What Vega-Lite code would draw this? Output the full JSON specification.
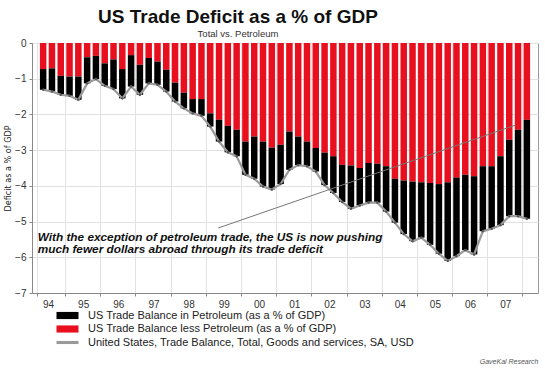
{
  "$schema": "https://vega.github.io/schema/vega-lite/v6.json",
  "width": 506,
  "height": 250,
  "autosize": {"type": "none"},
  "padding": {"left": 32, "top": 43, "right": 7, "bottom": 77},
  "background": "white",
  "config": {
    "font": "Liberation Sans",
    "view": {"stroke": "#999999", "strokeWidth": 1}
  },
  "title": {
    "text": "US Trade Deficit as a % of GDP",
    "subtitle": "Total vs. Petroleum",
    "anchor": "middle",
    "dx": -47,
    "offset": 0,
    "fontSize": 19,
    "fontWeight": "bold",
    "color": "#111111",
    "subtitleFontSize": 9.5,
    "subtitleColor": "#333333",
    "subtitlePadding": 2
  },
  "datasets": {
    "q": [
      {"t": 1994.375, "nonpet": -0.73, "pet": -0.58, "total": -1.31},
      {"t": 1994.625, "nonpet": -0.71, "pet": -0.65, "total": -1.36},
      {"t": 1994.875, "nonpet": -0.92, "pet": -0.53, "total": -1.45},
      {"t": 1995.125, "nonpet": -0.94, "pet": -0.54, "total": -1.48},
      {"t": 1995.375, "nonpet": -0.94, "pet": -0.65, "total": -1.59},
      {"t": 1995.625, "nonpet": -0.40, "pet": -0.73, "total": -1.13},
      {"t": 1995.875, "nonpet": -0.36, "pet": -0.65, "total": -1.01},
      {"t": 1996.125, "nonpet": -0.57, "pet": -0.63, "total": -1.20},
      {"t": 1996.375, "nonpet": -0.46, "pet": -0.83, "total": -1.29},
      {"t": 1996.625, "nonpet": -0.73, "pet": -0.82, "total": -1.55},
      {"t": 1996.875, "nonpet": -0.34, "pet": -0.88, "total": -1.22},
      {"t": 1997.125, "nonpet": -0.61, "pet": -0.84, "total": -1.45},
      {"t": 1997.375, "nonpet": -0.42, "pet": -0.71, "total": -1.13},
      {"t": 1997.625, "nonpet": -0.52, "pet": -0.65, "total": -1.17},
      {"t": 1997.875, "nonpet": -0.75, "pet": -0.61, "total": -1.36},
      {"t": 1998.125, "nonpet": -1.11, "pet": -0.53, "total": -1.64},
      {"t": 1998.375, "nonpet": -1.39, "pet": -0.44, "total": -1.83},
      {"t": 1998.625, "nonpet": -1.57, "pet": -0.40, "total": -1.97},
      {"t": 1998.875, "nonpet": -1.57, "pet": -0.47, "total": -2.04},
      {"t": 1999.125, "nonpet": -1.97, "pet": -0.37, "total": -2.34},
      {"t": 1999.375, "nonpet": -2.15, "pet": -0.61, "total": -2.76},
      {"t": 1999.625, "nonpet": -2.32, "pet": -0.74, "total": -3.06},
      {"t": 1999.875, "nonpet": -2.43, "pet": -0.74, "total": -3.17},
      {"t": 2000.125, "nonpet": -2.76, "pet": -0.93, "total": -3.69},
      {"t": 2000.375, "nonpet": -2.62, "pet": -1.18, "total": -3.80},
      {"t": 2000.625, "nonpet": -2.76, "pet": -1.26, "total": -4.02},
      {"t": 2000.875, "nonpet": -2.93, "pet": -1.17, "total": -4.10},
      {"t": 2001.125, "nonpet": -2.85, "pet": -1.10, "total": -3.95},
      {"t": 2001.375, "nonpet": -2.48, "pet": -1.07, "total": -3.55},
      {"t": 2001.625, "nonpet": -2.62, "pet": -0.80, "total": -3.42},
      {"t": 2001.875, "nonpet": -2.76, "pet": -0.69, "total": -3.45},
      {"t": 2002.125, "nonpet": -2.94, "pet": -0.66, "total": -3.60},
      {"t": 2002.375, "nonpet": -3.07, "pet": -0.91, "total": -3.98},
      {"t": 2002.625, "nonpet": -3.17, "pet": -1.03, "total": -4.20},
      {"t": 2002.875, "nonpet": -3.41, "pet": -1.04, "total": -4.45},
      {"t": 2003.125, "nonpet": -3.43, "pet": -1.21, "total": -4.64},
      {"t": 2003.375, "nonpet": -3.50, "pet": -1.05, "total": -4.55},
      {"t": 2003.625, "nonpet": -3.36, "pet": -1.11, "total": -4.47},
      {"t": 2003.875, "nonpet": -3.38, "pet": -1.09, "total": -4.47},
      {"t": 2004.125, "nonpet": -3.45, "pet": -1.27, "total": -4.72},
      {"t": 2004.375, "nonpet": -3.80, "pet": -1.23, "total": -5.03},
      {"t": 2004.625, "nonpet": -3.85, "pet": -1.50, "total": -5.35},
      {"t": 2004.875, "nonpet": -3.88, "pet": -1.67, "total": -5.55},
      {"t": 2005.125, "nonpet": -3.90, "pet": -1.55, "total": -5.45},
      {"t": 2005.375, "nonpet": -3.92, "pet": -1.73, "total": -5.65},
      {"t": 2005.625, "nonpet": -3.95, "pet": -1.95, "total": -5.90},
      {"t": 2005.875, "nonpet": -3.90, "pet": -2.20, "total": -6.10},
      {"t": 2006.125, "nonpet": -3.77, "pet": -2.20, "total": -5.97},
      {"t": 2006.375, "nonpet": -3.69, "pet": -2.11, "total": -5.80},
      {"t": 2006.625, "nonpet": -3.73, "pet": -2.19, "total": -5.92},
      {"t": 2006.875, "nonpet": -3.45, "pet": -1.82, "total": -5.27},
      {"t": 2007.125, "nonpet": -3.45, "pet": -1.75, "total": -5.20},
      {"t": 2007.375, "nonpet": -3.17, "pet": -1.93, "total": -5.10},
      {"t": 2007.625, "nonpet": -2.71, "pet": -2.14, "total": -4.85},
      {"t": 2007.875, "nonpet": -2.43, "pet": -2.42, "total": -4.85},
      {"t": 2008.125, "nonpet": -2.15, "pet": -2.77, "total": -4.92}
    ],
    "note": [
      {"t": 1994.22, "value": -5.43,
       "text": ["With the exception of petroleum trade, the US is now pushing", "much fewer dollars abroad through its trade deficit"]}
    ],
    "pointer": [
      {"t": 1999.35, "value": -5.18, "t2": 2007.8, "value2": -2.3}
    ]
  },
  "encoding": {
    "x": {
      "field": "t", "type": "quantitative",
      "scale": {"domain": [1994.2, 2008.3], "nice": false, "zero": false},
      "axis": {
        "values": [1994.2, 1995, 1996, 1997, 1998, 1999, 2000, 2001, 2002, 2003, 2004, 2005, 2006, 2007, 2008],
        "labelExpr": "datum.value >= 2008 ? '' : substring(toString(floor(datum.value)), 2, 4)",
        "labelOffset": {"condition": {"test": "datum.value < 1995", "value": 11}, "value": 18},
        "labelOverlap": false,
        "labelBound": false,
        "labelFontSize": 10, "labelColor": "#333333", "labelPadding": 3,
        "tickSize": 3, "tickColor": "#888888",
        "domainColor": "#888888",
        "grid": true, "gridColor": "#e2e2e2",
        "title": "GaveKal Research",
        "titleFontSize": 7, "titleFontStyle": "italic", "titleFontWeight": "normal",
        "titleColor": "#555555", "titleAnchor": "end", "titleY": 64
      }
    },
    "y": {
      "field": "value", "type": "quantitative",
      "scale": {"domain": [-7, 0], "nice": false},
      "axis": {
        "values": [0, -1, -2, -3, -4, -5, -6, -7],
        "format": "d",
        "labelOverlap": false,
        "labelFontSize": 10, "labelColor": "#333333", "labelPadding": 3,
        "tickSize": 3, "tickColor": "#888888", "domainColor": "#888888",
        "grid": true, "gridColor": "#e2e2e2",
        "title": "Deficit as a % of GDP",
        "titleFont": "DejaVu Sans Condensed",
        "titleFontSize": 9, "titleFontWeight": "normal", "titleColor": "#222222",
        "titlePadding": 2
      }
    },
    "color": {
      "field": "series", "type": "nominal",
      "scale": {"domain": ["pet", "nonpet", "total"], "range": ["#000000", "#e8101e", "#9a9a9a"]},
      "legend": {
        "orient": "none", "legendX": 30, "legendY": 267,
        "title": null,
        "symbolType": "M-2,-0.65H2V0.65H-2Z",
        "symbolSize": 121,
        "symbolStrokeWidth": 0,
        "labelFontSize": 11, "labelColor": "#222222", "labelOffset": 15,
        "labelLimit": 0,
        "rowPadding": 1.5,
        "labelExpr": "datum.label == 'pet' ? 'US Trade Balance in Petroleum (as a % of GDP)' : datum.label == 'nonpet' ? 'US Trade Balance less Petroleum (as a % of GDP)' : 'United States, Trade Balance, Total, Goods and services, SA, USD'",
        "encode": {
          "symbols": {
            "update": {
              "shape": {"signal": "datum.value == 'total' ? 'M-2,-0.28H2V0.28H-2Z' : 'M-2,-0.65H2V0.65H-2Z'"}
            }
          }
        }
      }
    }
  },
  "layer": [
    {
      "data": {"name": "q"},
      "transform": [{"fold": ["nonpet", "pet"], "as": ["series", "value"]}],
      "mark": {"type": "bar", "width": 6.5},
      "encoding": {
        "order": {"field": "series", "sort": "ascending"}
      }
    },
    {
      "data": {"name": "q"},
      "transform": [{"fold": ["total"], "as": ["series", "value"]}],
      "mark": {"type": "line", "strokeWidth": 2.2}
    },
    {
      "data": {"name": "q"},
      "transform": [{"fold": ["total"], "as": ["series", "value"]}],
      "mark": {"type": "circle", "size": 6, "opacity": 1},
      "encoding": {"color": {"value": "#555555"}}
    },
    {
      "data": {"name": "pointer"},
      "mark": {"type": "rule", "strokeWidth": 1},
      "encoding": {
        "x2": {"field": "t2"},
        "y2": {"field": "value2"},
        "color": {"value": "#777777"}
      }
    },
    {
      "data": {"name": "note"},
      "mark": {"type": "text", "align": "left", "baseline": "middle", "fontSize": 11.8, "fontWeight": "bold", "fontStyle": "italic", "lineHeight": 12.5},
      "encoding": {
        "text": {"field": "text"},
        "color": {"value": "#111111"}
      }
    }
  ]
}
